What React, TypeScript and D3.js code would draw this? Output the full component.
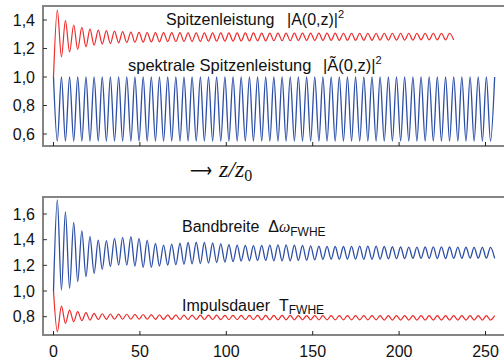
import React from "react";
import * as d3 from "d3";

// Propagation distance of each turning point (z / z0)
const zExtrema = [
  0, 2.2, 4.6, 6.9, 9.3, 11.7, 14.0, 16.4, 18.8, 21.1, 23.5, 25.9, 28.2, 30.6, 32.9, 35.3,
  37.7, 40.0, 42.4, 44.8, 47.1, 49.5, 51.9, 54.2, 56.6, 59.0, 61.3, 63.7, 66.1, 68.4, 70.8,
  73.2, 75.5, 77.9, 80.2, 82.6, 85.0, 87.3, 89.7, 92.1, 94.4, 96.8, 99.2, 101.5, 103.9, 106.3,
  108.6, 111.0, 113.4, 115.7, 118.1, 120.5, 122.8, 125.2, 127.5, 129.9, 132.3, 134.6, 137.0,
  139.4, 141.7, 144.1, 146.5, 148.8, 151.2, 153.6, 155.9, 158.3, 160.7, 163.0, 165.4, 167.8,
  170.1, 172.5, 174.8, 177.2, 179.6, 181.9, 184.3, 186.7, 189.0, 191.4, 193.8, 196.1, 198.5,
  200.9, 203.2, 205.6, 208.0, 210.3, 212.7, 215.1, 217.4, 219.8, 222.1, 224.5, 226.9, 229.2,
  231.6, 234.0, 236.3, 238.7, 241.1, 243.4, 245.8, 248.2, 250.5, 252.9, 255.3,
];

// Peak power |A(0,z)|^2
const peakPower = [
  1.0,
  1.470, 1.141, 1.395, 1.176, 1.365, 1.193, 1.348, 1.212, 1.336, 1.224,
  1.329, 1.231, 1.325, 1.235, 1.322, 1.240, 1.318, 1.242, 1.315, 1.244,
  1.313, 1.245, 1.312, 1.246, 1.312, 1.247, 1.311, 1.248, 1.311, 1.249,
  1.311, 1.249, 1.310, 1.250, 1.310, 1.250, 1.310, 1.251, 1.310, 1.251,
  1.309, 1.252, 1.309, 1.252, 1.309, 1.253, 1.309, 1.253, 1.309, 1.254,
  1.308, 1.254, 1.308, 1.255, 1.308, 1.255, 1.308, 1.255, 1.308, 1.256,
  1.308, 1.256, 1.308, 1.256, 1.308, 1.257, 1.308, 1.257, 1.308, 1.257,
  1.307, 1.258, 1.307, 1.258, 1.307, 1.258, 1.307, 1.258, 1.307, 1.259,
  1.307, 1.259, 1.307, 1.259, 1.307, 1.259, 1.307, 1.259, 1.307, 1.260,
  1.307, 1.260, 1.307, 1.260, 1.307, 1.260, 1.307, 1.260,
];

// Spectral peak power |Ã(0,z)|^2
const spectralPeakPower = [
  1.0,
  0.55, 1.0, 0.55, 1.0, 0.55, 1.0, 0.55, 1.0, 0.55, 1.0,
  0.55, 1.0, 0.55, 1.0, 0.55, 1.0, 0.55, 1.0, 0.55, 1.0,
  0.55, 1.0, 0.55, 1.0, 0.55, 1.0, 0.55, 1.0, 0.55, 1.0,
  0.55, 1.0, 0.55, 1.0, 0.55, 1.0, 0.55, 1.0, 0.55, 1.0,
  0.55, 1.0, 0.55, 1.0, 0.55, 1.0, 0.55, 1.0, 0.55, 1.0,
  0.55, 1.0, 0.55, 1.0, 0.55, 1.0, 0.55, 1.0, 0.55, 1.0,
  0.55, 1.0, 0.55, 1.0, 0.55, 1.0, 0.55, 1.0, 0.55, 1.0,
  0.55, 1.0, 0.55, 1.0, 0.55, 1.0, 0.55, 1.0, 0.55, 1.0,
  0.55, 1.0, 0.55, 1.0, 0.55, 1.0, 0.55, 1.0, 0.55, 1.0,
  0.55, 1.0, 0.55, 1.0, 0.55, 1.0, 0.55, 1.0, 0.55, 1.0,
  0.55, 1.0, 0.55, 1.0, 0.55, 1.0, 0.55, 1.0,
];

// Spectral bandwidth Δω_FWHE
const bandwidth = [
  1.0,
  1.709, 1.008, 1.617, 1.021, 1.535, 1.073, 1.469, 1.112, 1.423, 1.138,
  1.397, 1.169, 1.392, 1.190, 1.410, 1.202, 1.418, 1.202, 1.423, 1.195,
  1.410, 1.184, 1.397, 1.184, 1.371, 1.195, 1.358, 1.202, 1.365, 1.205,
  1.372, 1.208, 1.378, 1.212, 1.380, 1.214, 1.378, 1.218, 1.374, 1.222,
  1.368, 1.226, 1.362, 1.230, 1.358, 1.234, 1.355, 1.236, 1.354, 1.238,
  1.356, 1.238, 1.358, 1.236, 1.360, 1.235, 1.360, 1.236, 1.358, 1.238,
  1.355, 1.240, 1.352, 1.243, 1.350, 1.246, 1.348, 1.248, 1.347, 1.249,
  1.347, 1.249, 1.348, 1.248, 1.349, 1.247, 1.350, 1.247, 1.349, 1.248,
  1.347, 1.250, 1.345, 1.252, 1.343, 1.253, 1.342, 1.254, 1.342, 1.254,
  1.343, 1.254, 1.344, 1.253, 1.344, 1.253, 1.343, 1.254, 1.342, 1.255,
  1.341, 1.256, 1.340, 1.256, 1.340, 1.256, 1.340, 1.255,
];

// Pulse duration T_FWHE
const pulseDuration = [
  1.0,
  0.683, 0.883, 0.748, 0.852, 0.761, 0.839, 0.769, 0.831, 0.774, 0.826,
  0.777, 0.823, 0.779, 0.821, 0.780, 0.820, 0.780, 0.819, 0.780, 0.818,
  0.780, 0.817, 0.780, 0.816, 0.779, 0.815, 0.779, 0.814, 0.779, 0.814,
  0.778, 0.813, 0.778, 0.813, 0.778, 0.812, 0.778, 0.812, 0.778, 0.812,
  0.777, 0.811, 0.777, 0.811, 0.777, 0.811, 0.777, 0.811, 0.777, 0.810,
  0.776, 0.810, 0.776, 0.810, 0.776, 0.810, 0.776, 0.810, 0.776, 0.809,
  0.776, 0.809, 0.776, 0.809, 0.775, 0.809, 0.775, 0.809, 0.775, 0.809,
  0.775, 0.809, 0.775, 0.808, 0.775, 0.808, 0.775, 0.808, 0.775, 0.808,
  0.774, 0.808, 0.774, 0.808, 0.774, 0.808, 0.774, 0.808, 0.774, 0.808,
  0.774, 0.808, 0.774, 0.808, 0.774, 0.808, 0.774, 0.808, 0.774, 0.808,
  0.774, 0.808, 0.774, 0.808, 0.774, 0.808, 0.774, 0.808,
];

const topTicks = [0.6, 0.8, 1.0, 1.2, 1.4];
const bottomTicks = [0.8, 1.0, 1.2, 1.4, 1.6];
const zTicks = [0, 50, 100, 150, 200, 250];

const W = 504;
const H = 360;
const AXIS_X = 43;
const RED = "#ee2a2a";
const BLUE = "#2c4ea6";
const AXIS = "#858585";
const SANS = "'Liberation Sans', Arial, Helvetica, sans-serif";
const SERIF = "'Liberation Serif', 'DejaVu Serif', serif";

const x = d3.scaleLinear().domain([0, 250]).range([53.5, 485.5]);
const yTop = d3.scaleLinear().domain([0.6, 1.4]).range([134, 20]);
const yBot = d3.scaleLinear().domain([0.8, 1.6]).range([316.7, 214]);

const fmt = (v: number) => v.toFixed(1).replace(".", ",");

function linePath(values: number[], y: d3.ScaleLinear<number, number>) {
  const gen = d3
    .line<number>()
    .x((_, i) => x(zExtrema[i]))
    .y((v) => y(v))
    .curve(d3.curveMonotoneX);
  return gen(values) ?? "";
}

function Panel({
  top,
  bottom,
  y,
  ticks,
  showZLabels,
}: {
  top: number;
  bottom: number;
  y: d3.ScaleLinear<number, number>;
  ticks: number[];
  showZLabels: boolean;
}) {
  return (
    <g>
      {/* frame: left spine, top rule and bottom axis */}
      <line x1={AXIS_X} x2={W} y1={top} y2={top} stroke={AXIS} strokeWidth={2} />
      <line x1={AXIS_X} x2={W} y1={bottom} y2={bottom} stroke={AXIS} strokeWidth={2} />
      <line x1={AXIS_X} x2={AXIS_X} y1={top - 1} y2={bottom + 1} stroke={AXIS} strokeWidth={2} />
      {ticks.map((t) => (
        <g key={t}>
          <line x1={AXIS_X} x2={AXIS_X + 4} y1={y(t)} y2={y(t)} stroke="#333" strokeWidth={1} />
          <text
            x={35}
            y={y(t) + 5.5}
            textAnchor="end"
            fontFamily={SANS}
            fontSize={16}
            fill="#111"
          >
            {fmt(t)}
          </text>
        </g>
      ))}
      {zTicks.map((t) => (
        <g key={t}>
          <line x1={x(t)} x2={x(t)} y1={bottom - 4} y2={bottom} stroke="#222" strokeWidth={1} />
          {showZLabels && (
            <text
              x={x(t)}
              y={357}
              textAnchor="middle"
              fontFamily={SANS}
              fontSize={16}
              fill="#111"
            >
              {t}
            </text>
          )}
        </g>
      ))}
    </g>
  );
}

export default function App() {
  return (
    <svg
      width={W}
      height={H}
      viewBox={`0 0 ${W} ${H}`}
      style={{ position: "absolute", left: 0, top: 0, background: "#fff" }}
    >
      <rect width={W} height={H} fill="#fff" />

      <Panel top={6} bottom={146} y={yTop} ticks={topTicks} showZLabels={false} />
      <Panel top={197} bottom={335} y={yBot} ticks={bottomTicks} showZLabels={true} />

      <path d={linePath(spectralPeakPower, yTop)} fill="none" stroke={BLUE} strokeWidth={1.3} />
      <path d={linePath(peakPower, yTop)} fill="none" stroke={RED} strokeWidth={1.2} />
      <path d={linePath(bandwidth, yBot)} fill="none" stroke={BLUE} strokeWidth={1.3} />
      <path d={linePath(pulseDuration, yBot)} fill="none" stroke={RED} strokeWidth={1.2} />

      <text x={166} y={25} fontFamily={SANS} fontSize={16} fill="#111">
        Spitzenleistung
        <tspan x={287}>|A(0,z)|</tspan>
        <tspan dy={-7} fontSize={11}>2</tspan>
      </text>
      <text x={128} y={71} fontFamily={SANS} fontSize={16.5} fill="#111">
        spektrale Spitzenleistung
        <tspan x={323}>|Ã(0,z)|</tspan>
        <tspan dy={-7} fontSize={11}>2</tspan>
      </text>

      {/* propagation-direction marker between the panels */}
      <text x={190} y={177} fontFamily="'DejaVu Sans', sans-serif" fontSize={20} fill="#111">
        <tspan textLength={22} lengthAdjust="spacingAndGlyphs">{"\u27f6"}</tspan>
      </text>
      <text x={219} y={177} fontFamily={SERIF} fontSize={24} fill="#111">
        <tspan fontStyle="italic">z/z</tspan>
        <tspan dy={4} fontSize={16}>0</tspan>
      </text>

      <text x={182} y={232} fontFamily={SANS} fontSize={16} fill="#111">
        Bandbreite{"\u00a0\u00a0"}Δ
        <tspan fontFamily={SERIF} fontStyle="italic">ω</tspan>
        <tspan dy={4} fontSize={12}>FWHE</tspan>
      </text>
      <text x={182} y={311} fontFamily={SANS} fontSize={16} fill="#111">
        Impulsdauer{"\u00a0\u00a0"}T
        <tspan dy={3} fontSize={12}>FWHE</tspan>
      </text>
    </svg>
  );
}
